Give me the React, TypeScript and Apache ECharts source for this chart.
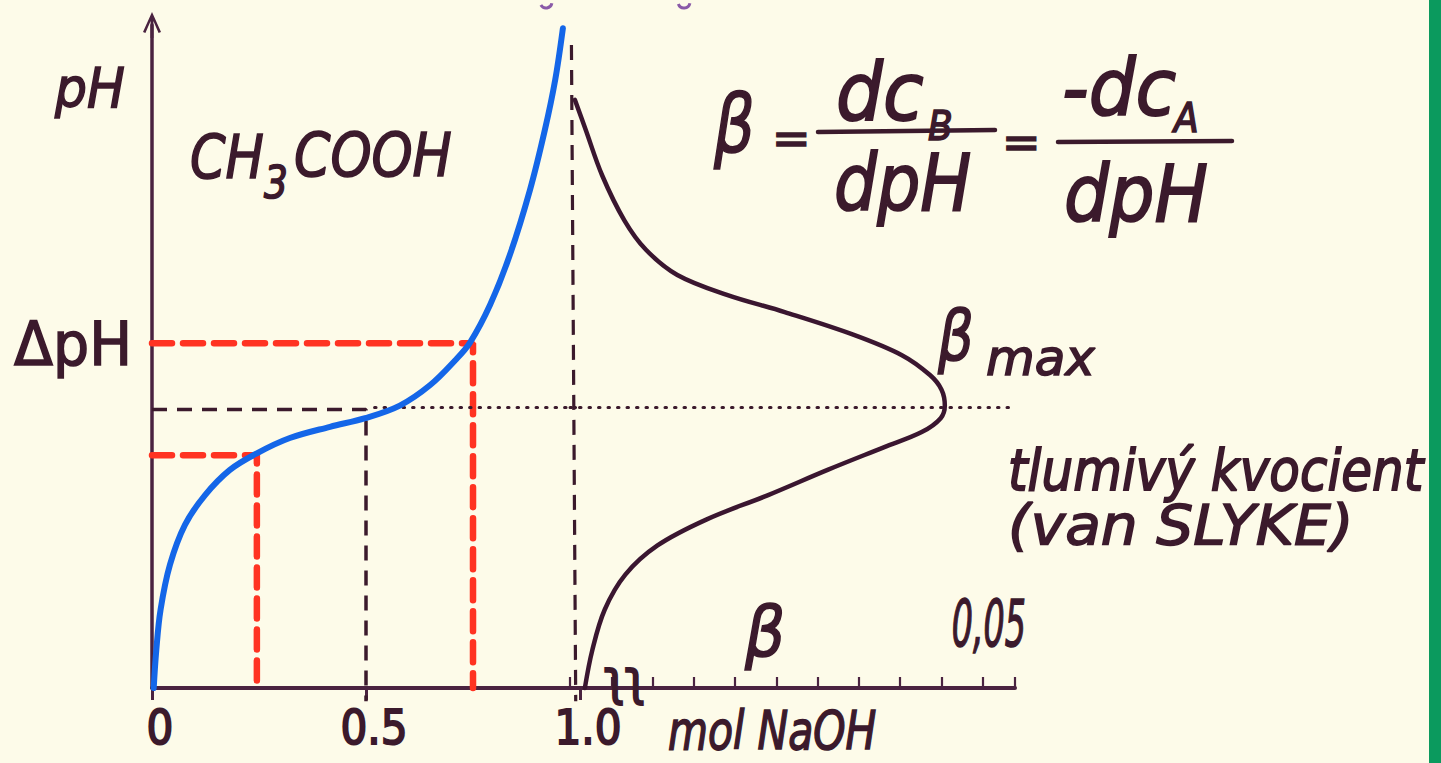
import React, { useEffect, useRef } from 'react';
import * as echarts from 'echarts';

// ---------- data ----------
// titration curve of CH3COOH with NaOH (x: mol NaOH, y: pH, arbitrary pH units as drawn)
const molNaOH = [0.004, 0.01, 0.02, 0.042, 0.077, 0.124, 0.182, 0.245, 0.322, 0.416, 0.498, 0.579, 0.65, 0.708, 0.743, 0.79, 0.836, 0.883, 0.918, 0.942, 0.96];
const pHTitration = [0, 0.57, 1.18, 1.86, 2.46, 2.91, 3.29, 3.54, 3.77, 3.94, 4.07, 4.26, 4.57, 4.94, 5.21, 5.78, 6.53, 7.51, 8.42, 9.17, 9.95];

// buffer capacity curve (x: beta, y: pH)
const betaValues = [0.0018, 0.0027, 0.0042, 0.0067, 0.0106, 0.0165, 0.024, 0.0312, 0.038, 0.0426, 0.0449, 0.0454, 0.045, 0.0436, 0.0402, 0.0343, 0.026, 0.019, 0.013, 0.0092, 0.0066, 0.0039, 0.0019, 0.0006];
const betaPH = [0, 0.57, 1.18, 1.71, 2.15, 2.54, 2.91, 3.29, 3.63, 3.86, 4.07, 4.26, 4.5, 4.72, 5.02, 5.33, 5.67, 5.93, 6.23, 6.61, 7.05, 7.73, 8.42, 8.87];

// guide values
const quarterMol = 0.245;
const halfMol = 0.5;
const threeQuarterMol = 0.75;
const equivMol = 0.99;
const lowPH = 3.51;
const halfPH = 4.2;
const highPH = 5.2;
const equivTopPH = 9.7;

// axes
const pHMin = 0;
const pHMax = 10;
const molMin = 0;
const molMax = 1;
const molInterval = 0.5;
const betaMin = 0;
const betaMax = 0.0539;
const betaInterval = 0.005;

// tick labels
const xTickValues = [0, 0.5, 1.0];
const xTickLabels = ['0', '0.5', '1.0'];
const betaTickValue = 0.05;
const betaTickLabel = '0,05';

// ---------- styles ----------
const FONT = "'DejaVu Sans', 'Noto Sans', sans-serif";
const INK = '#3b1a2c';
const AXIS = '#4a2340';
const BLUE = '#1466e8';
const RED = '#ff3322';
const BG = '#fdfbe9';

function txt(text: string, x: number, y: number, fontSize: number, opts: any = {}) {
  const align = opts.align || 'left';
  return {
    type: 'text',
    x,
    y,
    scaleX: opts.sx ?? 1,
    scaleY: opts.sy ?? 1,
    z: 10,
    style: {
      text,
      fontSize,
      fontFamily: FONT,
      fontStyle: opts.upright ? 'normal' : 'italic',
      fontWeight: opts.weight || 'normal',
      fill: opts.color || INK,
      stroke: opts.color || INK,
      lineWidth: opts.lw ?? 1.6,
      textAlign: align,
      align,
      textVerticalAlign: 'middle',
      verticalAlign: 'middle',
    },
  };
}

function hline(x1: number, x2: number, y1: number, y2: number, w = 4.5) {
  return {
    type: 'line',
    z: 10,
    shape: { x1, y1, x2, y2 },
    style: { stroke: INK, lineWidth: w, lineCap: 'round' },
  };
}

export default function App() {
  const ref = useRef<HTMLDivElement>(null);

  useEffect(() => {
    const chart = echarts.init(ref.current!, null, { renderer: 'svg' });

    const zip = (a: number[], b: number[]) => a.map((v, i) => [v, b[i]]);

    const arrowPath = 'path://M0,20 L9,0 L18,20 L15.6,21 L10.4,9 L10.4,26 L7.6,26 L7.6,9 L2.4,21 Z';

    const option: any = {
      animation: false,
      backgroundColor: BG,
      grid: [
        { left: 152, top: 25, width: 428, height: 663 },
        { left: 570, top: 25, width: 445, height: 663 },
      ],
      xAxis: [
        {
          gridIndex: 0,
          type: 'value',
          min: molMin,
          max: molMax,
          interval: molInterval,
          axisLine: { show: true, lineStyle: { color: AXIS, width: 4 } },
          axisTick: { show: true, length: 12, lineStyle: { color: AXIS, width: 3 } },
          axisLabel: { show: false },
          splitLine: { show: false },
        },
        {
          gridIndex: 1,
          type: 'value',
          min: betaMin,
          max: betaMax,
          interval: betaInterval,
          axisLine: { show: true, lineStyle: { color: AXIS, width: 4 } },
          axisTick: { show: true, inside: true, length: 11, lineStyle: { color: AXIS, width: 2.2 } },
          axisLabel: { show: false },
          splitLine: { show: false },
        },
      ],
      yAxis: [
        {
          gridIndex: 0,
          type: 'value',
          min: pHMin,
          max: pHMax,
          axisLine: {
            show: true,
            symbol: ['none', arrowPath],
            symbolSize: [20, 26],
            lineStyle: { color: AXIS, width: 3.5 },
          },
          axisTick: { show: false },
          axisLabel: { show: false },
          splitLine: { show: false },
        },
        {
          gridIndex: 1,
          type: 'value',
          min: pHMin,
          max: pHMax,
          show: false,
          splitLine: { show: false },
        },
      ],
      series: [
        {
          type: 'line',
          name: 'low',
          xAxisIndex: 0,
          yAxisIndex: 0,
          data: [[0, lowPH], [quarterMol, lowPH], [quarterMol, 0]],
          symbol: 'none',
          clip: false,
          lineStyle: { color: RED, width: 6.5, type: [20, 11], cap: 'round' },
          z: 3,
        },
        {
          type: 'line',
          name: 'high',
          xAxisIndex: 0,
          yAxisIndex: 0,
          data: [[0, highPH], [threeQuarterMol, highPH], [threeQuarterMol, 0]],
          symbol: 'none',
          clip: false,
          lineStyle: { color: RED, width: 6.5, type: [20, 11], cap: 'round' },
          z: 3,
        },
        {
          type: 'line',
          name: 'half',
          xAxisIndex: 0,
          yAxisIndex: 0,
          data: [[0, halfPH], [halfMol, halfPH], [halfMol, -0.2]],
          symbol: 'none',
          clip: false,
          lineStyle: { color: INK, width: 3.5, type: [15, 10] },
          z: 3,
        },
        {
          type: 'line',
          name: 'equiv',
          xAxisIndex: 0,
          yAxisIndex: 0,
          data: [[equivMol - 0.01, equivTopPH], [equivMol, -0.2]],
          symbol: 'none',
          clip: false,
          lineStyle: { color: INK, width: 3.2, type: [15, 10] },
          z: 3,
        },
        {
          type: 'line',
          name: 'dots1',
          xAxisIndex: 0,
          yAxisIndex: 0,
          data: [[halfMol + 0.02, halfPH + 0.03], [molMax, halfPH + 0.03]],
          symbol: 'none',
          clip: false,
          lineStyle: { color: INK, width: 3, type: [1.5, 8], cap: 'round' },
          z: 3,
        },
        {
          type: 'line',
          name: 'dots2',
          xAxisIndex: 1,
          yAxisIndex: 1,
          data: [[betaMin, halfPH + 0.03], [betaMax, halfPH + 0.03]],
          symbol: 'none',
          clip: false,
          lineStyle: { color: INK, width: 3, type: [1.5, 8], cap: 'round' },
          z: 3,
        },
        {
          type: 'line',
          name: 'titration',
          xAxisIndex: 0,
          yAxisIndex: 0,
          data: zip(molNaOH, pHTitration),
          smooth: 0.35,
          symbol: 'none',
          clip: false,
          lineStyle: { color: BLUE, width: 6, cap: 'round' },
          z: 5,
        },
        {
          type: 'line',
          name: 'beta',
          xAxisIndex: 1,
          yAxisIndex: 1,
          data: zip(betaValues, betaPH),
          smooth: 0.35,
          symbol: 'none',
          clip: false,
          lineStyle: { color: '#3a1630', width: 4.5, cap: 'round' },
          z: 5,
        },
      ],
    };

    chart.setOption(option);

    const tickTexts = xTickValues.map((v, i) => {
      const p = chart.convertToPixel({ gridIndex: 0 }, [v, 0]) as number[];
      return txt(xTickLabels[i], p[0] + 8, p[1] + 40, 48, { align: 'center', sx: 0.88, upright: true, lw: 2 });
    });
    const bp = chart.convertToPixel({ gridIndex: 1 }, [betaTickValue, 0]) as number[];

    const graphic: any[] = [
      { type: 'rect', z: 20, shape: { x: 1429, y: 0, width: 12, height: 763 }, style: { fill: '#0b9a5e' } },
      { type: 'arc', z: 10, shape: { cx: 546, cy: 2, r: 6, startAngle: 0.2, endAngle: 2.6 }, style: { stroke: '#8a5aa8', lineWidth: 3, fill: 'none' } },
      { type: 'arc', z: 10, shape: { cx: 684, cy: 2, r: 6, startAngle: 0.2, endAngle: 2.8 }, style: { stroke: '#8a5aa8', lineWidth: 3, fill: 'none' } },
      txt('pH', 55, 88, 56, { sx: 0.9 }),
      txt('ΔpH', 14, 344, 60, { sx: 0.95, upright: true }),
      txt('CH', 190, 157, 60, { sx: 0.85 }),
      txt('3', 264, 183, 44, { sx: 0.85 }),
      txt('COOH', 294, 155, 60, { sx: 0.87 }),
      // formula
      txt('β', 714, 124, 80, { sx: 0.8 }),
      txt('=', 772, 138, 46, { upright: true }),
      txt('dc', 836, 92, 66, { sx: 1.12, sy: 1.22 }),
      txt('B', 928, 126, 40, { sx: 0.9 }),
      hline(818, 995, 132, 130),
      txt('dpH', 834, 182, 66, { sx: 1.03, sy: 1.2 }),
      txt('=', 1002, 142, 46, { upright: true }),
      txt('-dc', 1062, 88, 66, { sx: 1.12, sy: 1.2 }),
      txt('A', 1174, 118, 40, { sx: 0.9 }),
      hline(1058, 1232, 142, 141),
      txt('dpH', 1064, 194, 66, { sx: 1.08, sy: 1.2 }),
      // beta max
      txt('β', 938, 336, 70, { sx: 0.8 }),
      txt('max', 986, 358, 50),
      // van Slyke
      txt('tlumivý kvocient', 1008, 470, 50, { sy: 1.15 }),
      txt('(van SLYKE)', 1008, 524, 56, { sx: 1.04 }),
      // beta axis
      txt('β', 745, 632, 70, { sx: 0.9 }),
      txt(betaTickLabel, bp[0] + 6, bp[1] - 64, 64, { align: 'center', sx: 0.52 }),
      txt('ʅʅ', 604, 678, 50, { upright: true, lw: 2, sx: 0.9 }),
      // x axis
      ...tickTexts,
      txt('mol NaOH', 668, 730, 54, { sx: 0.76 }),
    ];

    chart.setOption({ graphic });

    return () => chart.dispose();
  }, []);

  return (
    <div
      ref={ref}
      style={{ position: 'fixed', left: 0, top: 0, width: 1441, height: 763, background: BG }}
    />
  );
}
